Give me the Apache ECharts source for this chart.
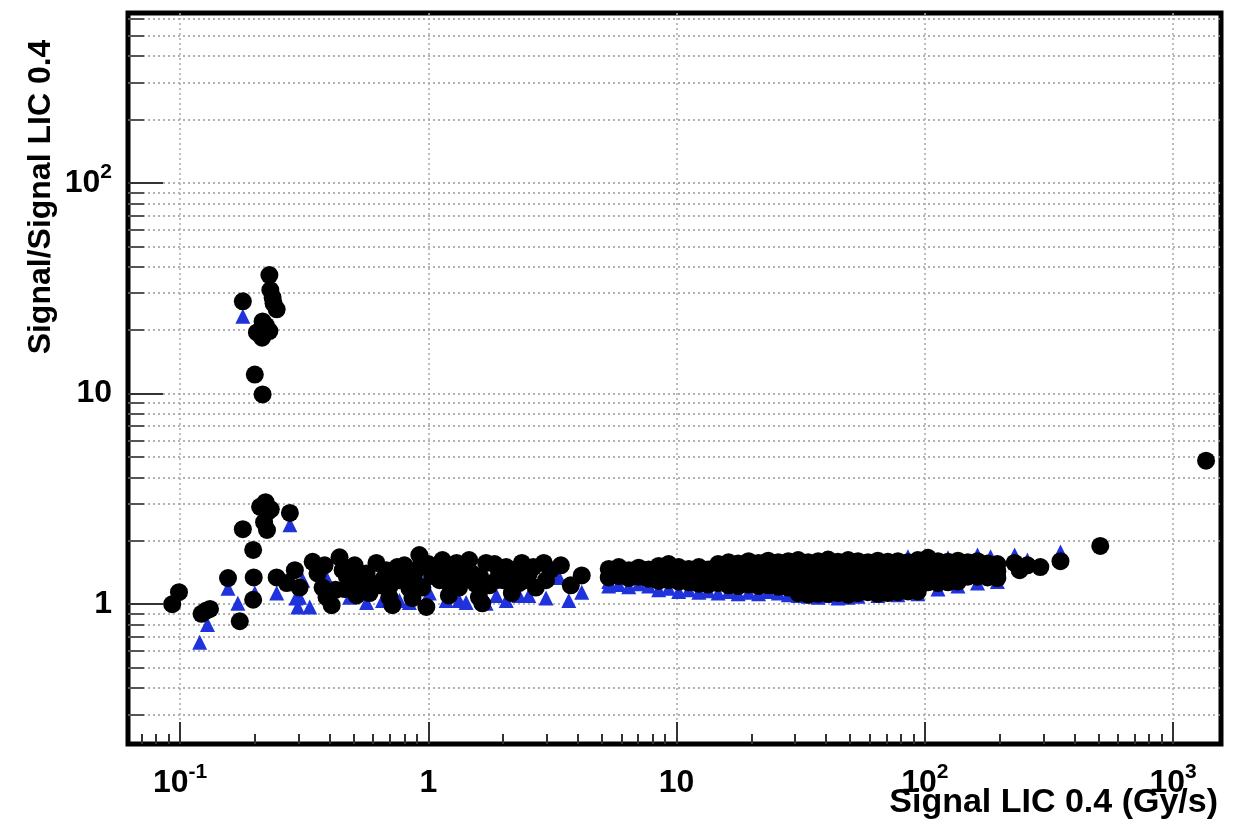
<!DOCTYPE html>
<html>
<head>
<meta charset="utf-8">
<script src="https://cdn.jsdelivr.net/npm/echarts@6/dist/echarts.min.js"></script>
<style>
html, body { margin: 0; padding: 0; background: #fff; }
#chart { width: 1251px; height: 831px; }
</style>
</head>
<body>
<div id="chart"></div>
<script>
// axis ranges (log10 scale on both axes)
var xMin = 0.0617, xMax = 1560;
var yMin = 0.217, yMax = 640;

// ticks
var xMajor = [0.1, 1, 10, 100, 1000];
var xMajorText = [['10', '-1'], ['1', ''], ['10', ''], ['10', '2'], ['10', '3']];
var xMinor = [0.07, 0.08, 0.09, 0.2, 0.3, 0.4, 0.5, 0.6, 0.7, 0.8, 0.9,
  2, 3, 4, 5, 6, 7, 8, 9, 20, 30, 40, 50, 60, 70, 80, 90,
  200, 300, 400, 500, 600, 700, 800, 900];
var yMajor = [1, 10, 100];
var yMajorText = [['1', ''], ['10', ''], ['10', '2']];
var yMinor = [0.3, 0.4, 0.5, 0.6, 0.7, 0.8, 0.9, 2, 3, 4, 5, 6, 7, 8, 9,
  20, 30, 40, 50, 60, 70, 80, 90, 200, 300, 400, 500, 600];

// black circles: low signal outliers
var blackLow = [
  [0.093, 1.00], [0.099, 1.14], [0.122, 0.90], [0.127, 0.93], [0.132, 0.95],
  [0.156, 1.33], [0.174, 0.83], [0.179, 2.27], [0.197, 1.81], [0.198, 1.34], [0.197, 1.05],
  [0.210, 2.90], [0.221, 3.05], [0.226, 2.75], [0.218, 2.45], [0.224, 2.25], [0.232, 2.82],
  [0.277, 2.71], [0.245, 1.34], [0.269, 1.26], [0.290, 1.45], [0.303, 1.20],
  [0.179, 27.4], [0.229, 36.5], [0.231, 31.0], [0.236, 28.5], [0.238, 26.8], [0.245, 25.1],
  [0.215, 22.0], [0.222, 21.0], [0.229, 19.8], [0.214, 18.4], [0.204, 19.5],
  [0.200, 12.3], [0.215, 9.9]
];
// black circles: 0.3 - 4 Gy/s
var blackMid = [
  [0.342, 1.59], [0.358, 1.40], [0.375, 1.20], [0.382, 1.53], [0.389, 1.08], [0.408, 0.99],
  [0.423, 1.17], [0.439, 1.67], [0.452, 1.45], [0.46, 1.18], [0.47, 1.35], [0.482, 1.26],
  [0.505, 1.53], [0.514, 1.10], [0.528, 1.30], [0.55, 1.20], [0.564, 1.40], [0.580, 1.13],
  [0.60, 1.25], [0.618, 1.57], [0.636, 1.23], [0.66, 1.32], [0.678, 1.45], [0.697, 1.08],
  [0.70, 1.22], [0.717, 0.99], [0.730, 1.37], [0.75, 1.50], [0.765, 1.30], [0.801, 1.53],
  [0.82, 1.40], [0.839, 1.19], [0.863, 1.07], [0.88, 1.28], [0.895, 1.45], [0.920, 1.71],
  [0.946, 1.20], [0.982, 0.97], [1.00, 1.55], [1.04, 1.37], [1.08, 1.48], [1.11, 1.30],
  [1.14, 1.62], [1.20, 1.27], [1.21, 1.10], [1.25, 1.45], [1.30, 1.57], [1.33, 1.20],
  [1.39, 1.37], [1.42, 1.50], [1.46, 1.62], [1.50, 1.40], [1.55, 1.25], [1.60, 1.08],
  [1.62, 1.35], [1.65, 1.01], [1.71, 1.57], [1.76, 1.23], [1.85, 1.55], [1.88, 1.30],
  [1.93, 1.42], [2.0, 1.30], [2.06, 1.50], [2.17, 1.13], [2.21, 1.37], [2.32, 1.26],
  [2.38, 1.57], [2.45, 1.30], [2.54, 1.40], [2.65, 1.50], [2.71, 1.20], [2.92, 1.57],
  [2.98, 1.30], [3.10, 1.45], [3.42, 1.53], [3.75, 1.23], [4.15, 1.37]
];
// black circles: dense band 5 - 200 Gy/s and high signal end
var blackHigh = [
  [5.33, 1.47], [5.33, 1.34], [5.85, 1.50], [5.85, 1.36], [6.42, 1.45], [6.42, 1.33],
  [7.04, 1.49], [7.04, 1.35], [7.72, 1.46], [7.72, 1.32],
  [8.47, 1.52], [8.47, 1.40], [8.47, 1.29], [9.29, 1.55], [9.29, 1.41], [9.29, 1.30],
  [10.2, 1.50], [10.2, 1.38], [10.2, 1.28], [11.2, 1.47], [11.2, 1.36], [11.2, 1.27],
  [12.3, 1.50], [12.3, 1.37], [12.3, 1.25], [13.4, 1.46], [13.4, 1.34], [13.4, 1.24],
  [14.7, 1.55], [14.7, 1.40], [14.7, 1.26],
  [16.2, 1.58], [16.2, 1.45], [16.2, 1.33], [16.2, 1.23],
  [17.7, 1.56], [17.7, 1.44], [17.7, 1.32], [17.7, 1.22],
  [19.5, 1.60], [19.5, 1.46], [19.5, 1.34], [19.5, 1.24],
  [21.4, 1.57], [21.4, 1.45], [21.4, 1.33], [21.4, 1.22],
  [23.4, 1.61], [23.4, 1.47], [23.4, 1.35], [23.4, 1.23],
  [25.7, 1.58], [25.7, 1.45], [25.7, 1.32], [25.7, 1.21],
  [28.2, 1.60], [28.2, 1.46], [28.2, 1.34], [28.2, 1.20],
  [30.9, 1.62], [30.9, 1.48], [30.9, 1.36], [30.9, 1.24], [30.9, 1.13],
  [33.9, 1.58], [33.9, 1.45], [33.9, 1.33], [33.9, 1.22], [33.9, 1.11],
  [37.2, 1.60], [37.2, 1.47], [37.2, 1.35], [37.2, 1.23], [37.2, 1.12],
  [40.8, 1.63], [40.8, 1.49], [40.8, 1.36], [40.8, 1.24], [40.8, 1.12],
  [44.7, 1.59], [44.7, 1.46], [44.7, 1.33], [44.7, 1.22], [44.7, 1.13],
  [49.1, 1.62], [49.1, 1.48], [49.1, 1.35], [49.1, 1.23], [49.1, 1.11],
  [53.8, 1.60], [53.8, 1.47], [53.8, 1.35], [53.8, 1.24], [53.8, 1.13],
  [59.0, 1.58], [59.0, 1.46], [59.0, 1.34], [59.0, 1.23], [59.0, 1.14],
  [64.7, 1.61], [64.7, 1.48], [64.7, 1.36], [64.7, 1.25], [64.7, 1.12],
  [71.0, 1.59], [71.0, 1.46], [71.0, 1.34], [71.0, 1.23], [71.0, 1.13],
  [77.9, 1.60], [77.9, 1.47], [77.9, 1.35], [77.9, 1.24], [77.9, 1.14],
  [85.5, 1.58], [85.5, 1.45], [85.5, 1.34], [85.5, 1.24], [85.5, 1.15],
  [93.7, 1.62], [93.7, 1.48], [93.7, 1.36], [93.7, 1.25], [93.7, 1.15],
  [103, 1.66], [103, 1.50], [103, 1.37], [103, 1.27],
  [113, 1.60], [113, 1.47], [113, 1.35], [113, 1.26],
  [124, 1.59], [124, 1.46], [124, 1.34], [124, 1.27],
  [136, 1.61], [136, 1.48], [136, 1.36], [136, 1.28],
  [149, 1.58], [149, 1.46], [149, 1.35], [163, 1.60], [163, 1.47], [163, 1.35],
  [179, 1.56], [179, 1.44], [179, 1.34], [196, 1.55], [196, 1.43], [196, 1.33],
  [230, 1.57], [241, 1.45], [259, 1.53], [292, 1.50], [352, 1.60], [509, 1.89], [1358, 4.8]
];

// blue triangles
var blueLow = [
  [0.120, 0.66], [0.129, 0.80], [0.156, 1.19], [0.171, 1.01], [0.200, 1.13],
  [0.179, 23.3], [0.277, 2.38], [0.245, 1.13], [0.293, 1.07], [0.298, 0.97]
];
var blueMid = [
  [0.303, 1.08], [0.312, 1.30], [0.333, 0.97], [0.389, 1.33], [0.482, 1.08], [0.564, 1.02],
  [0.654, 1.04], [0.765, 1.04], [0.839, 1.02], [0.982, 1.34], [1.01, 1.13], [1.18, 1.04],
  [1.33, 1.04], [1.42, 1.02], [1.71, 1.01], [1.88, 1.10], [2.06, 1.04], [2.32, 1.10],
  [2.54, 1.10], [2.98, 1.07], [3.36, 1.34], [3.68, 1.04], [4.15, 1.14]
];
var blueHigh = [
  [5.33, 1.22], [5.33, 1.28], [5.85, 1.24], [6.42, 1.21], [7.04, 1.25], [7.72, 1.22],
  [8.47, 1.17], [9.29, 1.19], [10.2, 1.15], [11.2, 1.17], [12.3, 1.14], [13.4, 1.16],
  [14.7, 1.13], [16.2, 1.15], [17.7, 1.12], [19.5, 1.14], [21.4, 1.12], [23.4, 1.15],
  [25.7, 1.13], [28.2, 1.11], [30.9, 1.10], [33.9, 1.09], [37.2, 1.08], [40.8, 1.10],
  [44.7, 1.07], [49.1, 1.08], [53.8, 1.09], [64.7, 1.10], [77.9, 1.11], [93.7, 1.12],
  [113, 1.18], [136, 1.22], [163, 1.26], [196, 1.28],
  [85.5, 1.68], [124, 1.66], [163, 1.71], [184, 1.68], [230, 1.71], [259, 1.62], [352, 1.77]
];

var fontFam = '"Liberation Sans", Arial, Helvetica, sans-serif';

function labelFor(values, texts) {
  return function (v) {
    for (var i = 0; i < values.length; i++) {
      if (Math.abs(Math.log10(v) - Math.log10(values[i])) < 1e-6) {
        var t = texts[i];
        return t[1] ? '{b|' + t[0] + '}{s|' + t[1] + '}' : '{b|' + t[0] + '}';
      }
    }
    return '';
  };
}
var labelRich = {
  b: { fontSize: 32, fontWeight: 'bold', fontFamily: fontFam, color: '#000', lineHeight: 42 },
  s: { fontSize: 21, fontWeight: 'bold', fontFamily: fontFam, color: '#000', lineHeight: 21, verticalAlign: 'top' }
};

var myChart = echarts.init(document.getElementById('chart'));
myChart.setOption({
  backgroundColor: '#fff',
  animation: false,
  grid: {
    left: 128, right: 30, top: 13, bottom: 87,
    show: true, borderColor: '#000', borderWidth: 5, backgroundColor: 'transparent'
  },
  xAxis: [{
    type: 'log', position: 'bottom', min: xMin, max: xMax,
    axisLine: { show: false },
    axisTick: { show: true, inside: true, length: 22, customValues: xMajor, lineStyle: { color: '#333', width: 2 } },
    axisLabel: { customValues: xMajor, margin: 18, formatter: labelFor(xMajor, xMajorText), rich: labelRich },
    splitLine: { show: true, lineStyle: { color: '#aaa', width: 1.5, type: [2, 3] } },
    minorTick: { show: false }, minorSplitLine: { show: false }
  }, {
    type: 'log', position: 'bottom', min: xMin, max: xMax,
    axisLine: { show: false },
    axisTick: { show: true, inside: true, length: 10, customValues: xMinor, lineStyle: { color: '#333', width: 2 } },
    axisLabel: { show: false },
    splitLine: { show: false }
  }],
  yAxis: [{
    type: 'log', position: 'left', min: yMin, max: yMax,
    axisLine: { show: false },
    axisTick: { show: true, inside: true, length: 35, customValues: yMajor, lineStyle: { color: '#333', width: 2 } },
    axisLabel: { customValues: yMajor, margin: 16, formatter: labelFor(yMajor, yMajorText), rich: labelRich },
    splitLine: { show: true, lineStyle: { color: '#999', width: 1.5, type: [2, 3] } },
    minorTick: { show: false }, minorSplitLine: { show: false }
  }, {
    type: 'log', position: 'left', min: yMin, max: yMax,
    axisLine: { show: false },
    axisTick: { show: true, inside: true, length: 16, customValues: yMinor, lineStyle: { color: '#555', width: 2 } },
    axisLabel: { show: false },
    splitLine: { show: true, lineStyle: { color: '#999', width: 1.5, type: [2, 3] } }
  }],
  series: [{
    name: 'blue',
    type: 'scatter',
    xAxisIndex: 0, yAxisIndex: 0,
    symbol: 'triangle',
    symbolSize: 15,
    itemStyle: { color: '#1f32dc', opacity: 1 },
    data: blueLow.concat(blueMid, blueHigh)
  }, {
    name: 'black',
    type: 'scatter',
    xAxisIndex: 0, yAxisIndex: 0,
    symbol: 'circle',
    symbolSize: 18,
    itemStyle: { color: '#000', opacity: 1 },
    data: blackLow.concat(blackMid, blackHigh)
  }],
  graphic: [{
    type: 'text', x: 41, y: 197, rotation: Math.PI / 2,
    style: { text: 'Signal/Signal LIC 0.4', fontSize: 32, fontWeight: 'bold', fontFamily: fontFam,
      fill: '#000', align: 'center', verticalAlign: 'middle' }
  }, {
    type: 'text', x: 1218, y: 803,
    style: { text: 'Signal LIC 0.4 (Gy/s)', fontSize: 34, fontWeight: 'bold', fontFamily: fontFam,
      fill: '#000', align: 'right', verticalAlign: 'middle' }
  }]
});
</script>
</body>
</html>
